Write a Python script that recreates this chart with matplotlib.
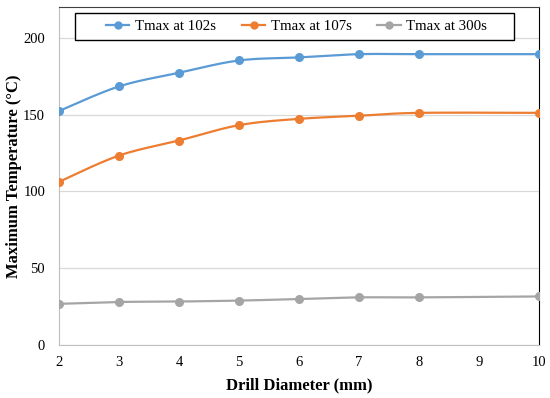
import numpy as np
import matplotlib
matplotlib.use("Agg")
import matplotlib.pyplot as plt
from matplotlib.patches import Rectangle

diameters = [2, 3, 4, 5, 6, 7, 8, 10]
t102 = [152.3, 168.3, 177.2, 185.2, 187.2, 189.3, 189.3, 189.3]
t107 = [106.2, 123.3, 133.1, 143.1, 147.2, 149.2, 151.1, 151.1]
t300 = [26.8, 28.0, 28.3, 28.9, 29.9, 31.0, 31.0, 31.6]
labels = ["Tmax at 102s", "Tmax at 107s", "Tmax at 300s"]
colors = ["#5B9BD5", "#ED7D31", "#A5A5A5"]


def smooth(x, y, n=30):
    # Catmull-Rom style smoothing (similar to Excel's smoothed line)
    p = np.column_stack([x, y]).astype(float)
    p = np.vstack([p[0], p, p[-1]])
    out = []
    for i in range(1, len(p) - 2):
        p0, p1, p2, p3 = p[i - 1], p[i], p[i + 1], p[i + 2]
        c1 = p1 + (p2 - p0) / 6.0
        c2 = p2 - (p3 - p1) / 6.0
        t = np.linspace(0, 1, n)[:, None]
        seg = ((1 - t) ** 3) * p1 + 3 * ((1 - t) ** 2) * t * c1 + 3 * (1 - t) * t ** 2 * c2 + t ** 3 * p2
        out.append(seg if i == 1 else seg[1:])
    s = np.vstack(out)
    return s[:, 0], s[:, 1]


plt.rcParams['font.family'] = ['Liberation Serif', 'DejaVu Serif']
fig = plt.figure(figsize=(5.5, 3.98), dpi=100)
ax = fig.add_axes([59 / 550, 53 / 398, 480 / 550, 338 / 398])

for ys, lab, c in zip([t102, t107, t300], labels, colors):
    sx, sy = smooth(diameters, ys)
    ax.plot(sx, sy, color=c, lw=1.6, zorder=3)
    ax.plot(diameters, ys, 'o', color=c, ms=5.5, zorder=4)
    ax.plot([], [], '-o', color=c, lw=1.6, ms=5, label=lab)

ax.set_xlim(2, 10)
ax.set_ylim(0, 220)
ax.set_xticks(range(2, 11))
ax.set_yticks([0, 50, 100, 150, 200])
ax.grid(axis='y', color='#D9D9D9', lw=0.9, zorder=0)
ax.tick_params(length=0, labelsize=10.5)
ax.tick_params(axis='x', pad=8)
ax.tick_params(axis='y', pad=10)
for s in ['left', 'bottom']:
    ax.spines[s].set_color('#BFBFBF')
ax.spines['top'].set_color('#404040')
ax.spines['right'].set_color('#000000')
ax.set_xlabel('Drill Diameter (mm)', fontsize=12, fontweight='bold', labelpad=6)
ax.set_ylabel('Maximum Temperature (°C)', fontsize=12, fontweight='bold', labelpad=0.5)

# legend box (Excel-style, framed)
x0 = (75 - 59) / 480
x1 = (514 - 59) / 480
y0 = 1 - (40 - 7) / 338
y1 = 1 - (13 - 7) / 338
ax.add_patch(Rectangle((x0, y0), x1 - x0, y1 - y0, transform=ax.transAxes,
                       facecolor='white', edgecolor='black', lw=1.0, zorder=5,
                       clip_on=False))
leg = ax.legend(loc='center', bbox_to_anchor=((296.5 - 59) / 480, (y0 + y1) / 2), ncol=3,
                fontsize=10.7, frameon=False, columnspacing=1.75,
                handlelength=1.6, handletextpad=0.35, borderpad=0.0)
leg.set_zorder(6)

fig.savefig('out.png', dpi=100)
